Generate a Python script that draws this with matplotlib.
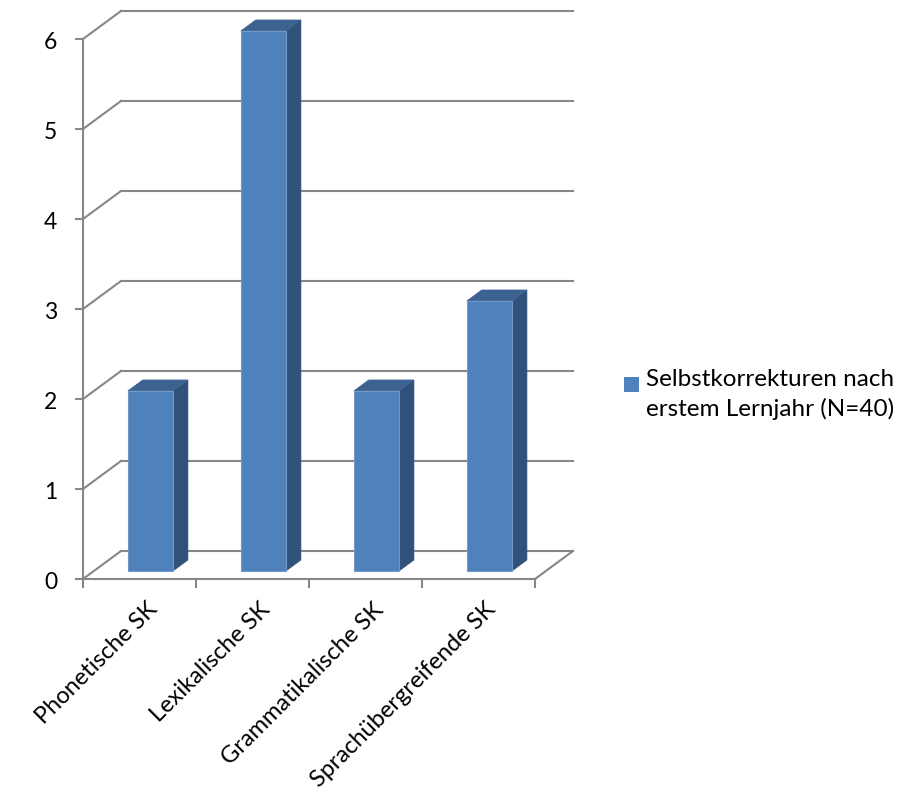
import matplotlib.pyplot as plt
from matplotlib.patches import Polygon, Rectangle

plt.rcParams['font.family'] = ['Lato', 'DejaVu Sans']

categories = ['Phonetische SK', 'Lexikalische SK', 'Grammatikalische SK', 'Sprachübergreifende SK']
values = [2, 6, 2, 3]
yticks = [0, 1, 2, 3, 4, 5, 6]
series_name = 'Selbstkorrekturen nach\nerstem Lernjahr (N=40)'

# Excel-Farben
front_col = '#4F81BD'
top_col = '#3B6291'
side_col = '#30517A'
grid_col = '#878787'

# schräge Tiefe (3D-Effekt) in Dateneinheiten
dx, dy = 0.336, 0.311
f1, f2 = 0.29, 0.68   # Lage der Balken in der Tiefe
bw = 0.4

fig = plt.figure(figsize=(9.12, 7.99), dpi=100)
ax = fig.add_axes([0, 0, 1, 1])
ax.set_xlim(-83 / 113, (912 - 83) / 113)
ax.set_ylim(-220 / 90, (799 - 220) / 90)
ax.axis('off')

n = len(categories)
ymax = max(yticks)

# Rückwand + Seitenwand
for v in yticks:
    ax.plot([dx, n + dx], [v + dy, v + dy], color=grid_col, lw=1.5, zorder=1)
    ax.plot([0, dx], [v, v + dy], color=grid_col, lw=1.5, zorder=1)

# Boden
ax.plot([n, n + dx], [0, dy], color=grid_col, lw=1.5, zorder=1)
ax.plot([0, n], [0, 0], color=grid_col, lw=1.5, zorder=3)

# vordere y-Achse
ax.plot([0, 0], [0, ymax], color=grid_col, lw=1.5, zorder=3)
for v in yticks:
    ax.plot([-0.062, 0], [v, v], color=grid_col, lw=1.5, zorder=3)
    ax.text(-0.23, v - 0.04, str(v), ha='right', va='center', fontsize=16.5)

# x-Ticks
for i in range(n + 1):
    ax.plot([i, i], [0, -0.09], color=grid_col, lw=1.5, zorder=3)

# Balken
for i, v in enumerate(values):
    x0 = i + 0.5 - bw / 2 + f1 * dx
    y0 = f1 * dy
    ddx = (f2 - f1) * dx
    ddy = (f2 - f1) * dy
    side = Polygon([(x0 + bw, y0), (x0 + bw + ddx, y0 + ddy),
                    (x0 + bw + ddx, y0 + ddy + v), (x0 + bw, y0 + v)],
                   closed=True, facecolor=side_col, edgecolor=side_col, lw=0.5, zorder=4)
    top = Polygon([(x0, y0 + v), (x0 + bw, y0 + v),
                   (x0 + bw + ddx, y0 + v + ddy), (x0 + ddx, y0 + v + ddy)],
                  closed=True, facecolor=top_col, edgecolor=top_col, lw=0.5, zorder=4)
    front = Rectangle((x0, y0), bw, v, facecolor=front_col, edgecolor='#7399C9',
                      lw=0.8, zorder=5)
    ax.add_patch(side)
    ax.add_patch(top)
    ax.add_patch(front)

# Kategorienbeschriftung
for i, c in enumerate(categories):
    ax.text(i + 0.56, -0.22, c, rotation=45, rotation_mode='anchor',
            ha='right', va='top', fontsize=17)

# Legende
fig.patches.append(Rectangle((624 / 912, 1 - 392 / 799), 15 / 912, 15 / 799,
                             transform=fig.transFigure, facecolor=front_col,
                             edgecolor='none'))
fig.text(646 / 912, 1 - 369 / 799, series_name, ha='left', va='top',
         fontsize=17.5, linespacing=1.42)

fig.savefig('out.png', dpi=100)
